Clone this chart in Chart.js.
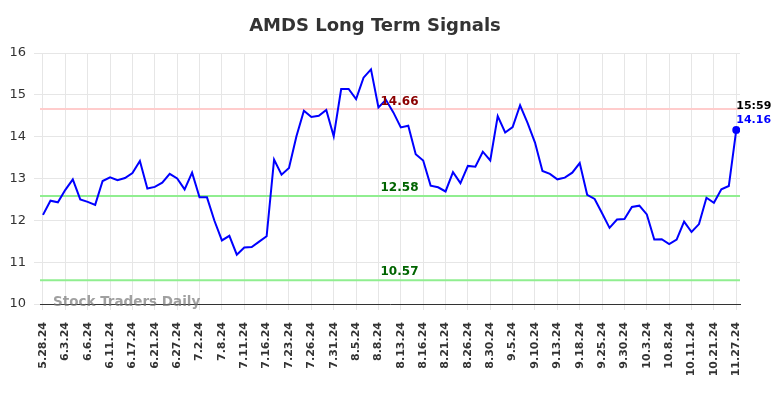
<!DOCTYPE html>
<html>
<head>
<meta charset="utf-8">
<script src="https://cdn.jsdelivr.net/npm/chart.js@4.4.1/dist/chart.umd.min.js"></script>
<style>
html,body{margin:0;padding:0;background:#fff;}
#wrap{width:784px;height:398px;position:relative;}
</style>
</head>
<body>
<div id="wrap"><canvas id="c" width="784" height="398"></canvas></div>
<script>
const chartTitle = "AMDS Long Term Signals";
const tickLabels = ["5.28.24","6.3.24","6.6.24","6.11.24","6.17.24","6.21.24","6.27.24","7.2.24","7.8.24","7.11.24","7.16.24","7.23.24","7.26.24","7.31.24","8.5.24","8.8.24","8.13.24","8.16.24","8.21.24","8.26.24","8.30.24","9.5.24","9.10.24","9.13.24","9.18.24","9.25.24","9.30.24","10.3.24","10.8.24","10.11.24","10.21.24","11.27.24"];
const prices = [12.13,12.47,12.43,12.73,12.98,12.50,12.44,12.37,12.94,13.03,12.96,13.01,13.13,13.42,12.76,12.80,12.90,13.11,13.00,12.74,13.14,12.55,12.55,11.99,11.52,11.63,11.18,11.35,11.36,11.49,11.62,13.45,13.09,13.25,14.01,14.62,14.47,14.50,14.64,14.01,15.14,15.14,14.90,15.41,15.61,14.70,14.88,14.58,14.22,14.26,13.58,13.43,12.83,12.79,12.69,13.15,12.89,13.30,13.28,13.64,13.43,14.49,14.10,14.23,14.75,14.33,13.86,13.18,13.11,12.98,13.02,13.14,13.37,12.61,12.51,12.17,11.82,12.02,12.03,12.32,12.35,12.14,11.54,11.55,11.43,11.54,11.97,11.72,11.91,12.54,12.42,12.74,12.82,14.16];
const resistance = 14.66;
const supports = [12.58, 10.57];
const lastTime = "15:59";
const watermark = "Stock Traders Daily";
const yTicks = [10,11,12,13,14,15,16];
const pointsPerTick = 3;

const FONT = "'DejaVu Sans', sans-serif";
const pts = prices.map((v,i)=>({x:i,y:v}));
const lastIdx = prices.length-1;

const overlay = {
  id:'overlay',
  afterDatasetsDraw(chart){
    const ctx = chart.ctx, xs = chart.scales.x, ys = chart.scales.y;
    ctx.save();
    ctx.fillStyle = '#333333';
    ctx.font = "bold 18px " + FONT;
    ctx.textAlign = 'center'; ctx.textBaseline = 'middle';
    ctx.fillText(chartTitle, 375, 26);
    ctx.fillStyle = 'rgba(120,120,120,0.7)';
    ctx.font = "bold 13.5px " + FONT;
    ctx.textAlign = 'left';
    ctx.fillText(watermark, 53, 302);
    const cx = 399.5;
    ctx.font = "bold 12px " + FONT;
    ctx.textAlign = 'center';
    ctx.fillStyle = '#8b0000';
    ctx.fillText(resistance.toFixed(2), cx, ys.getPixelForValue(resistance) - 7);
    ctx.fillStyle = '#006400';
    supports.forEach(s=>ctx.fillText(s.toFixed(2), cx, ys.getPixelForValue(s) - 8));
    const lx = xs.getPixelForValue(lastIdx), ly = ys.getPixelForValue(prices[lastIdx]);
    ctx.textAlign = 'left';
    ctx.font = "bold 11px " + FONT;
    ctx.fillStyle = '#000000';
    ctx.fillText(lastTime, lx, ly - 24);
    ctx.fillStyle = '#0000ff';
    ctx.fillText(prices[lastIdx].toFixed(2), lx, ly - 10);
    ctx.restore();
  },
  beforeDatasetsDraw(chart){
    const ctx = chart.ctx, ys = chart.scales.y, ca = chart.chartArea;
    ctx.save();
    ctx.lineWidth = 2;
    const hl = (v,c)=>{const y=ys.getPixelForValue(v);ctx.strokeStyle=c;ctx.beginPath();ctx.moveTo(ca.left,y);ctx.lineTo(ca.right,y);ctx.stroke();};
    hl(resistance,'#ffcccc');
    supports.forEach(s=>hl(s,'#90ee90'));
    ctx.restore();
  }
};

new Chart(document.getElementById('c'), {
  type:'line',
  data:{datasets:[{
    data: pts,
    borderColor:'#0000ff',
    borderWidth:2,
    tension:0,
    pointRadius: pts.map((p,i)=> i===lastIdx?4:0),
    pointBackgroundColor:'#0000ff',
    pointBorderWidth:0,
    fill:false
  }]},
  options:{
    responsive:false,
    animation:false,
    devicePixelRatio:1,
    layout:{padding:{top:53,right:44,left:0,bottom:0}},
    plugins:{legend:{display:false},tooltip:{enabled:false},title:{display:false}},
    scales:{
      x:{
        type:'linear',
        min:-0.4, max:lastIdx+0.5,
        afterBuildTicks(s){ s.ticks = tickLabels.map((t,i)=>({value:i*pointsPerTick})); },
        afterFit(s){ s.height = 94; },
        ticks:{
          autoSkip:false, maxRotation:90, minRotation:90,
          color:'#333333', font:{family:FONT, size:11, weight:'bold'},
          padding:12,
          callback:(v)=> tickLabels[Math.round(v/pointsPerTick)] ?? ''
        },
        grid:{color:'#e6e6e6', lineWidth:1, drawTicks:true, tickLength:6},
        border:{display:true, color:'#333333', width:1}
      },
      y:{
        min:10, max:16,
        afterBuildTicks(s){ s.ticks = yTicks.map(v=>({value:v})); },
        afterFit(s){ s.width = 40; },
        ticks:{color:'#333333', font:{family:FONT, size:13}, padding:8},
        grid:{color:'#e6e6e6', lineWidth:1, drawTicks:true, tickLength:6},
        border:{display:false}
      }
    }
  },
  plugins:[overlay]
});
</script>
</body>
</html>
